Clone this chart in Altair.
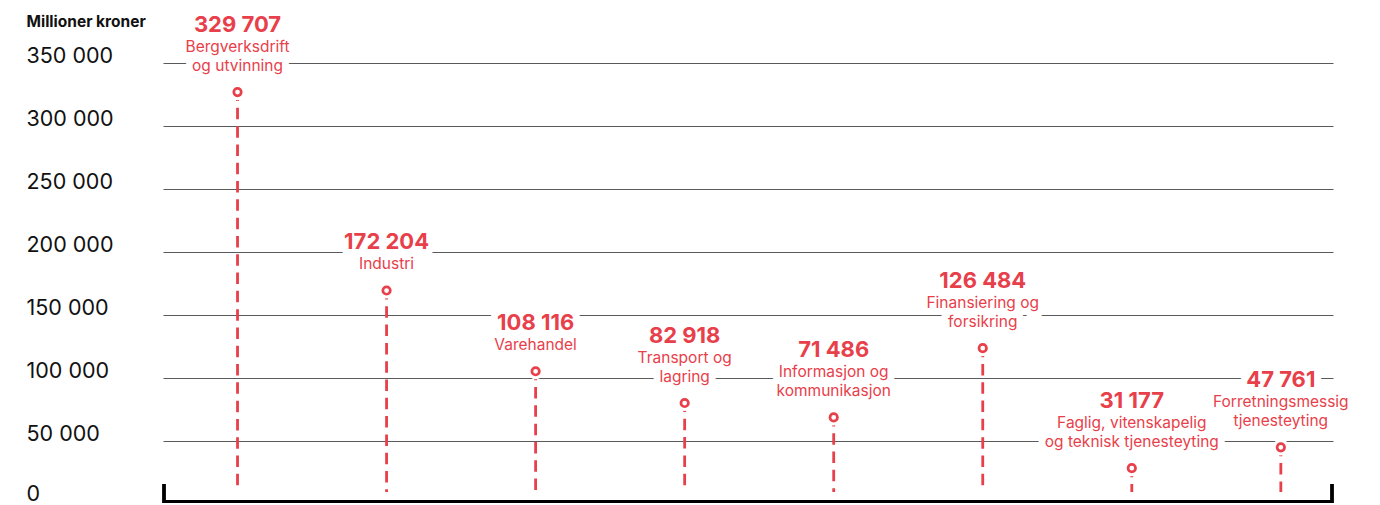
import altair as alt
import pandas as pd

# ---- data ----
categories = [
    "Bergverksdrift\nog utvinning",
    "Industri",
    "Varehandel",
    "Transport og\nlagring",
    "Informasjon og\nkommunikasjon",
    "Finansiering og\nforsikring",
    "Faglig, vitenskapelig\nog teknisk tjenesteyting",
    "Forretningsmessig\ntjenesteyting",
]
values = [329707, 172204, 108116, 82918, 71486, 126484, 31177, 47761]
y_ticks = [0, 50000, 100000, 150000, 200000, 250000, 300000, 350000]
y_title = "Millioner kroner"

RED = "#e8404a"
INK = "#111111"
GRID = "#5a5a5a"
FONT = "Inter"

df = pd.DataFrame({
    "idx": list(range(len(categories))),
    "category": categories,
    "value": values,
})
df["label"] = [f"{v:,}".replace(",", " ") for v in values]
df["nlines"] = [c.count("\n") + 1 for c in categories]

x_enc = alt.X("idx:Q", scale=alt.Scale(domain=[-0.5, 7.35], nice=False, zero=False), axis=None)
y_axis = alt.Axis(
    values=y_ticks, grid=True, gridColor=GRID, gridWidth=1,
    gridOpacity={"condition": {"test": "datum.value === 0", "value": 0}, "value": 1},
    domain=False, ticks=False, tickSize=0,
    labelAlign="left", labelPadding=137, labelBaseline="middle",
    labelOffset={"condition": {"test": "datum.value === 0", "value": -10}, "value": -7},
    labelFont=FONT, labelFontSize=21.5, labelColor=INK,
    labelExpr="replace(format(datum.value, ','), regexp(',', 'g'), ' ')",
    title=y_title, titleAngle=0, titleAlign="left", titleBaseline="middle",
    titleX=-137, titleY=-42, titleFont=FONT, titleFontSize=15.5,
    titleFontWeight="bold", titleColor=INK,
)
y_enc = alt.Y("value:Q", scale=alt.Scale(domain=[0, 350000], nice=False), axis=y_axis)

base = alt.Chart(df)
one = base.transform_filter("datum.nlines == 1")
two = base.transform_filter("datum.nlines == 2")


def text_pair(chart, field, **kw):
    halo = chart.mark_text(fill="white", stroke="white", strokeWidth=14,
                           strokeJoin="round", **kw).encode(x=x_enc, y=y_enc, text=f"{field}:N")
    fill = chart.mark_text(fill=RED, **kw).encode(x=x_enc, y=y_enc, text=f"{field}:N")
    return halo, fill


val_kw = dict(font=FONT, fontSize=22, fontWeight="bold", baseline="alphabetic", align="center")
cat_kw = dict(font=FONT, fontSize=15.5, baseline="alphabetic", align="center",
              lineBreak="\n", lineHeight=19)
v1h, v1 = text_pair(one, "label", dy=-38, **val_kw)
v2h, v2 = text_pair(two, "label", dy=-57, **val_kw)
c1h, c1 = text_pair(one, "category", dy=-18, **cat_kw)
c2h, c2 = text_pair(two, "category", dy=-37, **cat_kw)

dot_halo = base.mark_point(filled=True, fill="white", size=260, opacity=1, yOffset=3.5,
                           strokeWidth=0).encode(x=x_enc, y=y_enc)
stem = base.mark_rule(color=RED, strokeWidth=2.8, strokeDash=[11.5, 6.8], strokeDashOffset=7,
                      yOffset=8, y2Offset=-12).encode(x=x_enc, y=y_enc, y2=alt.datum(0))
dot = base.mark_point(filled=False, fill="white", fillOpacity=1, stroke=RED, strokeWidth=2.7,
                      size=56, opacity=1, yOffset=3.5).encode(x=x_enc, y=y_enc)

W, H = 1170, 441
frame_h = base.mark_rule(color="black", strokeWidth=2.5).encode(
    x=alt.value(0), x2=alt.value(W), y=alt.value(438.5))
frame_l = base.mark_rule(color="black", strokeWidth=2.5).encode(
    x=alt.value(1), y=alt.value(421), y2=alt.value(440))
frame_r = base.mark_rule(color="black", strokeWidth=2.5).encode(
    x=alt.value(W - 1), y=alt.value(421), y2=alt.value(440))

chart = alt.layer(
    stem, v1h, v2h, c1h, c2h, dot_halo, dot, v1, v2, c1, c2, frame_h, frame_l, frame_r
).properties(
    width=W, height=H,
    autosize=alt.AutoSizeParams(type="none"),
    padding={"left": 155, "top": 55, "right": 20, "bottom": 4},
).configure_view(stroke=None)

chart.save("out.html", embed_options={"renderer": "svg", "actions": False})
